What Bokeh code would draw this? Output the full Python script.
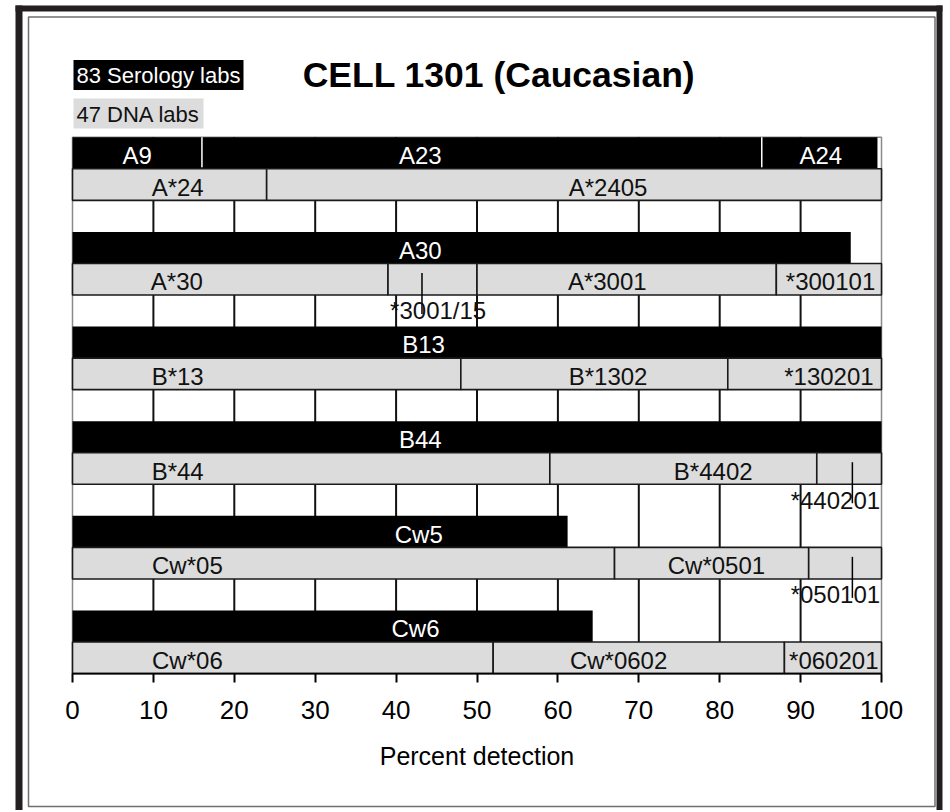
from bokeh.plotting import figure
from bokeh.models import Range1d, LinearAxis, FixedTicker
from bokeh.core.properties import value
from bokeh.embed import file_html
from bokeh.resources import INLINE

# ---------------- data ----------------
title_text = "CELL 1301 (Caucasian)"
legend_sero = "83 Serology labs"
legend_dna = "47 DNA labs"
x_label = "Percent detection"
ticks = [0, 10, 20, 30, 40, 50, 60, 70, 80, 90, 100]

# serology (black) rows, top to bottom: names and segment boundaries (percent)
sero_names = [["A9", "A23", "A24"], ["A30"], ["B13"], ["B44"], ["Cw5"], ["Cw6"]]
sero_bounds = [[0, 16, 85.2, 99.5], [0, 96.2], [0, 100], [0, 100], [0, 61.2], [0, 64.3]]

# DNA (grey) rows
dna_names = [["A*24", "A*2405"],
             ["A*30", "*3001/15", "A*3001", "*300101"],
             ["B*13", "B*1302", "*130201"],
             ["B*44", "B*4402", "*440201"],
             ["Cw*05", "Cw*0501", "*050101"],
             ["Cw*06", "Cw*0602", "*060201"]]
dna_bounds = [[0, 24, 100],
              [0, 39, 50, 87, 100],
              [0, 48, 81, 100],
              [0, 59, 92, 100],
              [0, 67, 91, 100],
              [0, 52, 88, 100]]

# label anchor x (percent); None = label is a call-out drawn below the bar
sero_label_x = [[8, 43, 92.5], [43], [43.4], [43], [42.8], [42.4]]
dna_label_x = [[13, 66.2], [12.9, None, 66.1, 93.7], [13, 66.2, 93.5],
               [13, 79.2, None], [14.2, 79.6, None], [14.2, 67.5, 94.1]]
# call-outs: leader x and label centre x, in the order they occur
callout_leader_x = [43.2, 96.4, 96.4]
callout_label_x = [45.2, 94.3, 94.3]

# ---------------- layout helpers ----------------
W, H = 946, 810
PX0, PXU = 72.0, 8.09     # page px of 0 %, px per percent
PY0, PYU = 673.1, 31.55   # page px of row 0 (axis), px per row
def dx(px):
    return (px - PX0) / PXU
def dy(py):
    return (PY0 - py) / PYU

FONT = "Liberation Sans"
n_rows = 3 * len(sero_names) - 1

p = figure(width=W, height=H, output_backend="svg", toolbar_location=None,
           x_range=Range1d(dx(0), dx(W)), y_range=Range1d(dy(H), dy(0)),
           x_axis_location=None, y_axis_location=None, min_border=0,
           tools="")
p.grid.visible = False
p.outline_line_color = None
p.background_fill_color = "white"
p.border_fill_color = "white"

# plot area border
p.quad(left=[ticks[0]], right=[ticks[-1]], bottom=[0], top=[n_rows],
       fill_color=None, line_color="#8a8a8a", line_width=1.5)
# vertical grid lines
p.segment(x0=ticks[1:-1], x1=ticks[1:-1], y0=[0] * (len(ticks) - 2),
          y1=[n_rows] * (len(ticks) - 2), line_color="#111111", line_width=2)

# build bars
bl, br, bb, bt = [], [], [], []
sep_x, sep_y0, sep_y1 = [], [], []
gl, gr, gb, gt = [], [], [], []
lab_x, lab_y, lab_t = [], [], []
dlab_x, dlab_y, dlab_t = [], [], []
lead_x0, lead_y0, lead_y1 = [], [], []
co_x, co_y, co_t = [], [], []
ci = 0
for i in range(len(sero_names)):
    s_top = n_rows - 3 * i
    s_bot = s_top - 1
    d_bot = s_bot - 1
    b = sero_bounds[i]
    for k, name in enumerate(sero_names[i]):
        bl.append(b[k]); br.append(b[k + 1]); bb.append(s_bot); bt.append(s_top)
        if k > 0:
            sep_x.append(b[k]); sep_y0.append(s_bot + 0.05); sep_y1.append(s_top)
        lab_x.append(sero_label_x[i][k]); lab_y.append(s_bot + 0.42); lab_t.append(name)
    b = dna_bounds[i]
    for k, name in enumerate(dna_names[i]):
        gl.append(b[k]); gr.append(b[k + 1]); gb.append(d_bot); gt.append(s_bot)
        lx = dna_label_x[i][k]
        if lx is None:
            lead_x0.append(callout_leader_x[ci]); lead_y0.append(d_bot + 0.7)
            lead_y1.append(d_bot - 0.6)
            co_x.append(callout_label_x[ci]); co_y.append(d_bot - 0.5); co_t.append(name)
            ci += 1
        else:
            dlab_x.append(lx); dlab_y.append(d_bot + 0.42); dlab_t.append(name)

p.quad(left=bl, right=br, bottom=bb, top=bt, fill_color="black", line_color=None)
p.segment(x0=sep_x, x1=sep_x, y0=sep_y0, y1=sep_y1, line_color="white", line_width=1.5)
p.quad(left=gl, right=gr, bottom=gb, top=gt, fill_color="#dcdcdc",
       line_color="#1a1a1a", line_width=1.6)
p.segment(x0=lead_x0, x1=lead_x0, y0=lead_y0, y1=lead_y1, line_color="black", line_width=1.5)

LBL = value("24px")
p.text(x=lab_x, y=lab_y, text=lab_t, text_color="white", text_align="center",
       text_baseline="middle", text_font=value(FONT), text_font_size=LBL)
p.text(x=dlab_x, y=dlab_y, text=dlab_t, text_color="#111111", text_align="center",
       text_baseline="middle", text_font=value(FONT), text_font_size=LBL)
p.text(x=co_x, y=co_y, text=co_t, text_color="#111111", text_align="center",
       text_baseline="middle", text_font=value(FONT), text_font_size=LBL)

# x axis
xaxis = LinearAxis(fixed_location=0, bounds=(ticks[0], ticks[-1]),
                   ticker=FixedTicker(ticks=ticks), axis_label=x_label)
xaxis.axis_line_color = "black"
xaxis.axis_line_width = 1.5
xaxis.major_tick_in = 0
xaxis.major_tick_out = 9
xaxis.major_tick_line_color = "black"
xaxis.major_tick_line_width = 2
xaxis.minor_tick_line_color = None
xaxis.major_label_text_font = FONT
xaxis.major_label_text_font_size = "26px"
xaxis.major_label_text_color = "black"
xaxis.major_label_standoff = 18
xaxis.axis_label_text_font = FONT
xaxis.axis_label_text_font_size = "25px"
xaxis.axis_label_text_font_style = "normal"
xaxis.axis_label_text_color = "black"
xaxis.axis_label_standoff = 20
p.add_layout(xaxis, "below")

# title and legend boxes
p.text(x=[dx(498.5)], y=[dy(74)], text=[title_text], text_align="center",
       text_baseline="middle", text_font=value(FONT), text_font_size=value("35.5px"),
       text_font_style="bold", text_color="black")
p.quad(left=[dx(73)], right=[dx(243)], top=[dy(59.5)], bottom=[dy(89.5)],
       fill_color="black", line_color=None)
p.text(x=[dx(76)], y=[dy(75)], text=[legend_sero], text_align="left",
       text_baseline="middle", text_font=value(FONT), text_font_size=value("22px"),
       text_color="white")
p.quad(left=[dx(73)], right=[dx(203)], top=[dy(98)], bottom=[dy(128)],
       fill_color="#dcdcdc", line_color=None)
p.text(x=[dx(76)], y=[dy(114)], text=[legend_dna], text_align="left",
       text_baseline="middle", text_font=value(FONT), text_font_size=value("22px"),
       text_color="#111111")

# page frames
frame_col = "#231f20"
p.quad(left=[dx(15), dx(15), dx(936)], right=[dx(22), dx(942), dx(942)],
       top=[dy(5), dy(5), dy(5)], bottom=[dy(812), dy(11), dy(812)],
       fill_color=frame_col, line_color=None)
p.quad(left=[dx(28)], right=[dx(934.5)], top=[dy(16.5)], bottom=[dy(806)],
       fill_color=None, line_color="#6f6f6f", line_width=1.5)

open("out.html", "w").write(file_html(p, INLINE))
